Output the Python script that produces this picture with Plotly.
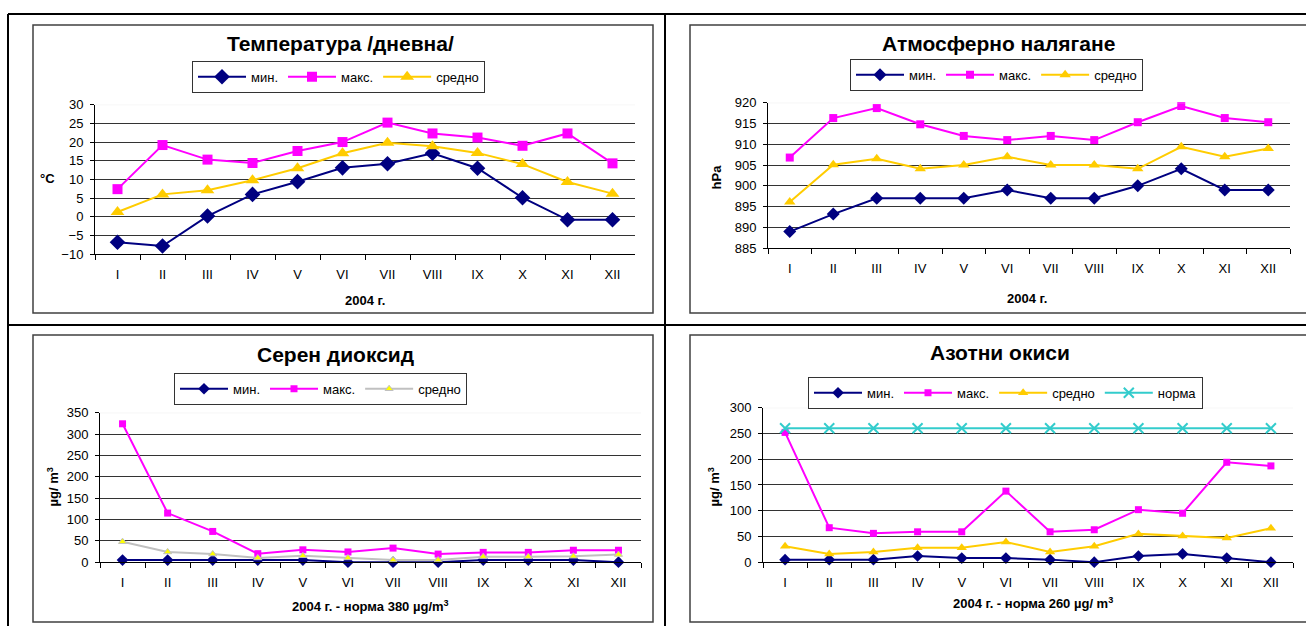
import plotly.graph_objects as go

W, H = 1306, 626          # reference picture size (coordinates below are in these pixels)
H_CSS = 639               # drawn height, compensates the vertical scaling seen in the photograph
TOP_SHIFT = -5.6          # px

months = ["I", "II", "III", "IV", "V", "VI", "VII", "VIII", "IX", "X", "XI", "XII"]

temp_min = [-6.8, -7.8, 0.2, 6.0, 9.4, 13.1, 14.2, 17.0, 13.0, 5.1, -0.8, -0.8]
temp_max = [7.4, 19.2, 15.3, 14.4, 17.6, 20.0, 25.2, 22.3, 21.2, 19.0, 22.3, 14.3]
temp_avg = [1.3, 6.0, 7.1, 9.8, 13.0, 17.0, 19.8, 18.9, 17.1, 14.1, 9.3, 6.2]

pres_min = [889.0, 893.2, 897.0, 897.0, 897.0, 899.0, 897.0, 897.0, 900.0, 904.1, 899.0, 899.0]
pres_max = [906.8, 916.3, 918.7, 914.8, 912.0, 911.0, 912.0, 911.0, 915.3, 919.2, 916.3, 915.3]
pres_avg = [896.1, 905.1, 906.5, 904.1, 905.0, 907.0, 905.0, 905.0, 904.1, 909.4, 907.0, 909.0]

so2_min = [5, 5, 5, 5, 5, 0, 0, 0, 5, 5, 5, 0]
so2_max = [324, 115, 72, 20, 29, 24, 33, 19, 23, 23, 28, 28]
so2_avg = [48, 24, 19, 10, 15, 10, 5, 5, 13, 13, 14, 18]

nox_min = [5, 5, 5, 12, 8, 8, 5, 0, 12, 16, 8, 0]
nox_max = [252, 67, 56, 59, 59, 138, 59, 63, 102, 95, 194, 187]
nox_avg = [31, 16, 20, 28, 28, 39, 20, 31, 55, 51, 47, 66]
nox_norm = [260] * 12

series_names = ["мин.", "макс.", "средно", "норма"]
titles = ["Температура /дневна/", "Атмосферно налягане", "Серен диоксид", "Азотни окиси"]

NAVY, MAG, YEL, TEAL, GRAY = "#000080", "#FF00FF", "#FFCC00", "#33CCCC", "#C0C0C0"
FONT = "Arial, Liberation Sans, sans-serif"


def px(x):
    return x / W


def py(y):
    return 1 - y / H


fig = go.Figure()

panels = [
    # (axis suffix, legend id, x px range, y px range(top,bottom), y range, dtick, marker size)
    ("", "legend", (95, 635), (104, 254), (-10, 30), 5, 10),
    ("2", "legend2", (768, 1290), (102, 248), (885, 920), 5, 8),
    ("3", "legend3", (100, 641), (413, 563), (0, 350), 50, 7),
    ("4", "legend4", (763, 1293), (408, 563), (0, 300), 50, 7),
]

data = [
    [temp_min, temp_max, temp_avg],
    [pres_min, pres_max, pres_avg],
    [so2_min, so2_max, so2_avg],
    [nox_min, nox_max, nox_avg, nox_norm],
]

for pi, (suf, leg, xr, yr, yrange, dt, ms) in enumerate(panels):
    xa = "x" + suf
    ya = "y" + suf
    for si, vals in enumerate(data[pi]):
        if si == 0:
            line = dict(color=NAVY, width=2)
            marker = dict(symbol="diamond", size=ms + 2, color=NAVY)
        elif si == 1:
            line = dict(color=MAG, width=2)
            marker = dict(symbol="square", size=ms, color=MAG)
        elif si == 2:
            if pi == 2:
                line = dict(color=GRAY, width=2)
                marker = dict(symbol="triangle-up", size=ms, color="#FFFF00",
                              line=dict(color=GRAY, width=1))
            else:
                line = dict(color=YEL, width=2)
                marker = dict(symbol="triangle-up", size=ms + 2, color=YEL)
        else:
            line = dict(color=TEAL, width=2)
            marker = dict(symbol="x-thin-open", size=ms + 3, color=TEAL,
                          line=dict(color=TEAL, width=2))
        fig.add_trace(go.Scatter(
            x=months, y=vals, mode="lines+markers", name=series_names[si],
            line=line, marker=marker, xaxis=xa, yaxis=ya, legend=leg,
            cliponaxis=False,
        ))

    xkey = "xaxis" + suf
    ykey = "yaxis" + suf
    fig.update_layout(**{
        xkey: dict(
            domain=[px(xr[0]), px(xr[1])], anchor=ya, type="category",
            categoryorder="array", categoryarray=months,
            range=[-0.5, 11.5], showgrid=False, zeroline=False,
            showline=True, linecolor="black", linewidth=1,
            ticks="outside", tickson="boundaries", ticklen=5, tickcolor="black",
            ticklabelstandoff=8,
            tickfont=dict(family=FONT, size=13, color="black"),
        ),
        ykey: dict(
            domain=[py(yr[1]), py(yr[0])], anchor=xa,
            range=list(yrange), dtick=dt, tick0=yrange[0],
            showgrid=True, gridcolor="#333333", gridwidth=1, zeroline=False,
            showline=True, linecolor="black", linewidth=1,
            ticks="outside", ticklen=4, tickcolor="black",
            ticklabelstandoff=4,
            tickfont=dict(family=FONT, size=13, color="black"),
        ),
    })
    # faint top gridline as in the original
    fig.add_shape(type="line", xref=xa + " domain", yref=ya,
                  x0=0, x1=1, y0=yrange[1], y1=yrange[1],
                  line=dict(color="#E8E8E8", width=1), layer="above")

legend_pos = [(192, 60), (850, 58), (174, 373), (808, 377)]
for i, (lx, ly) in enumerate(legend_pos):
    key = "legend" if i == 0 else "legend%d" % (i + 1)
    fig.update_layout(**{key: dict(
        x=px(lx), y=py(ly), xanchor="left", yanchor="top",
        orientation="h", bordercolor="#333333", borderwidth=1,
        bgcolor="white", font=dict(family=FONT, size=13, color="black"),
        itemwidth=48, tracegroupgap=0,
    )})

ann = []
title_pos = [(340, 43), (998, 43), (335, 355), (1000, 353)]
for t, (tx, ty) in zip(titles, title_pos):
    ann.append(dict(text="<b>%s</b>" % t, x=px(tx), y=py(ty), xref="paper", yref="paper",
                    showarrow=False, font=dict(family=FONT, size=21, color="black"),
                    xanchor="center", yanchor="middle"))

xtitles = [("<b>2004 г.</b>", 365, 300),
           ("<b>2004 г.</b>", 1027, 298),
           ("<b>2004 г. - норма 380 µg/m<sup>3</sup></b>", 370, 607),
           ("<b>2004 г. - норма 260 µg/ m<sup>3</sup></b>", 1033, 604)]
for t, tx, ty in xtitles:
    ann.append(dict(text=t, x=px(tx), y=py(ty), xref="paper", yref="paper",
                    showarrow=False, font=dict(family=FONT, size=13, color="black"),
                    xanchor="center", yanchor="middle"))

ytitles = [("<b>°C</b>", 47, 178, 0),
           ("<b>hPa</b>", 716, 177, -90),
           ("<b>µg/ m<sup>3</sup></b>", 53, 488, -90),
           ("<b>µg/ m<sup>3</sup></b>", 714, 487, -90)]
for t, tx, ty, ang in ytitles:
    ann.append(dict(text=t, x=px(tx), y=py(ty), xref="paper", yref="paper",
                    showarrow=False, textangle=ang,
                    font=dict(family=FONT, size=13, color="black"),
                    xanchor="center", yanchor="middle"))

shapes = []
# outer frame and dividers
for x0, y0, x1, y1 in [(8, 13, 1306, 13), (8, 13, 8, 640), (665, 13, 665, 640), (8, 325, 1306, 325)]:
    shapes.append(dict(type="line", xref="paper", yref="paper",
                       x0=px(x0), y0=py(y0), x1=px(x1), y1=py(y1),
                       line=dict(color="black", width=2)))
# chart area boxes
for x0, y0, x1, y1 in [(33, 24, 653, 313), (690, 24, 1312, 313), (33, 335, 653, 623), (690, 335, 1312, 623)]:
    shapes.append(dict(type="rect", xref="paper", yref="paper",
                       x0=px(x0), y0=py(y0), x1=px(x1), y1=py(y1),
                       line=dict(color="#404040", width=1.5), layer="below"))

fig.update_layout(
    width=W, height=H_CSS, autosize=False,
    margin=dict(l=0, r=0, t=0, b=0),
    paper_bgcolor="white", plot_bgcolor="white",
    font=dict(family=FONT, color="black"),
    annotations=ann,
)
for s in shapes:
    fig.add_shape(**s)

post = (
    "document.documentElement.style.margin='0';"
    "document.documentElement.style.overflow='hidden';"
    "document.body.style.margin='0';"
    "document.body.style.overflow='hidden';"
    "var d=document.getElementsByClassName('plotly-graph-div')[0];"
    "if(d){d.style.position='fixed';d.style.left='0px';d.style.top='%spx';}" % TOP_SHIFT
)

fig.write_html("out.html", config={"displayModeBar": False}, post_script=post)
